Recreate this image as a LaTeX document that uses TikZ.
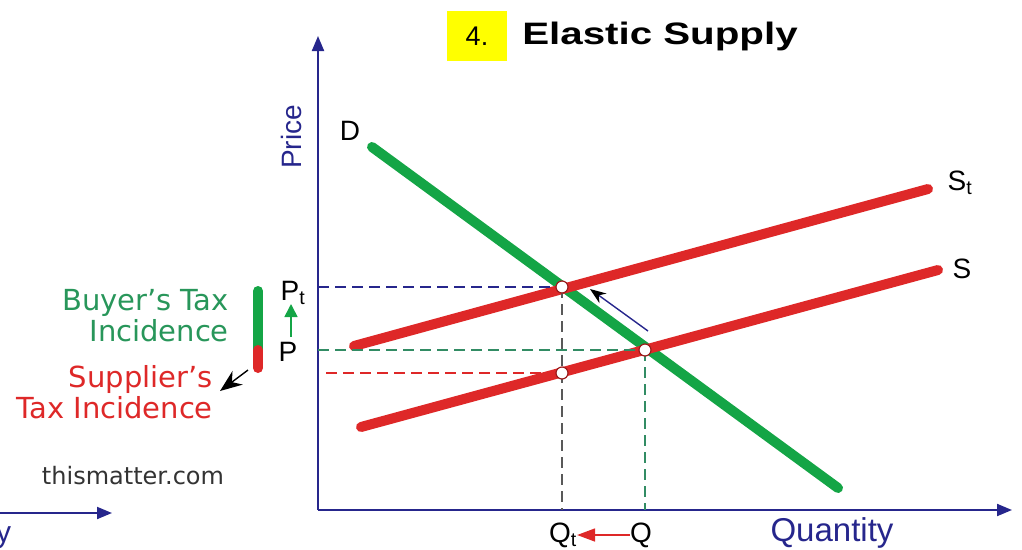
\documentclass[tikz,border=0pt]{standalone}
\usepackage{fontspec}
\setmainfont{Liberation Sans}
\newfontfamily\verdanalike{DejaVu Sans}
\usetikzlibrary{arrows.meta}
\begin{document}
\begin{tikzpicture}[x=1pt, y=-1pt,
    axis/.style={draw=colorAxis, line width=2pt, -{Triangle[length=15pt, width=12pt]}},
    curve/.style={line width=10pt, line cap=round},
    guide/.style={line width=2pt, dash pattern=on 11pt off 6pt},
    dot/.style={circle, draw=colorSupply!70!black, fill=white, line width=1.2pt, inner sep=0pt, minimum size=12pt},
    lbl/.style={font=\fontsize{28}{28}\selectfont, text=black, inner sep=0pt},
    side/.style={font=\verdanalike\fontsize{29}{31}\selectfont, align=right, inner sep=0pt, anchor=east}
    ]
    % Definizione colori
    \definecolor{colorAxis}{RGB}{38, 38, 140}
    \definecolor{colorDemand}{RGB}{20, 165, 70}
    \definecolor{colorSupply}{RGB}{222, 40, 40}
    \definecolor{colorBuyer}{RGB}{40, 150, 90}
    \definecolor{colorGuide}{RGB}{50, 140, 100}
    \definecolor{colorTitle}{RGB}{255, 255, 0}

    \useasboundingbox (0,0) rectangle (1022,549);

    % Titolo
    \node[fill=colorTitle, minimum width=60pt, minimum height=50pt, font=\fontsize{27}{27}\selectfont] (numero) at (477,36) {4.};
    \node[font=\bfseries\fontsize{31}{31}\selectfont, xscale=1.3, anchor=west, inner sep=0pt] (titolo) at (522,36) {Elastic Supply};

    % Assi
    \coordinate (origine) at (318,510);
    \coordinate (cimaY) at (318,36);
    \coordinate (fineX) at (1012,510);
    \draw[axis] (origine) -- (cimaY);
    \draw[axis] (origine) -- (fineX);
    \node[rotate=90, font=\fontsize{28}{28}\selectfont, text=colorAxis, inner sep=0pt] (prezzo) at (291,137) {Price};
    \node[font=\fontsize{33}{33}\selectfont, text=colorAxis, inner sep=0pt] (quantita) at (832,533) {Quantity};

    % Asse del pannello precedente
    \coordinate (vecchioX) at (0,513);
    \coordinate (vecchioFine) at (112,513);
    \draw[axis] (vecchioX) -- (vecchioFine);
    \node[font=\fontsize{30}{30}\selectfont, text=colorAxis, inner sep=0pt, anchor=north west] (vecchiaY) at (-4,526) {y};

    % Curve
    \coordinate (d1) at (372,147);
    \coordinate (d2) at (838,488);
    \coordinate (st1) at (354,346);
    \coordinate (st2) at (928,189);
    \coordinate (s1) at (361,427);
    \coordinate (s2) at (938,270);
    \draw[curve, colorDemand] (d1) -- (d2);
    \draw[curve, colorSupply] (st1) -- (st2);
    \draw[curve, colorSupply] (s1) -- (s2);
    \node[lbl] (labelD) at (350,131) {D};
    \node[lbl] (labelSt) at (960,183) {S\textsubscript{t}};
    \node[lbl] (labelS) at (962,269) {S};

    % Punti di equilibrio
    \coordinate (eqT) at (562,287);
    \coordinate (eq) at (645,350);
    \coordinate (eqS) at (562,373);
    \coordinate (asseT) at (562,510);
    \coordinate (asseQ) at (645,510);

    % Linee tratteggiate
    \draw[guide, colorAxis] (318,287) -- (eqT);
    \draw[guide, colorGuide] (318,350) -- (eq);
    \draw[guide, colorSupply] (326,373) -- (eqS);
    \draw[guide, black!65] (eqT) -- (asseT);
    \draw[guide, colorGuide] (eq) -- (asseQ);

    \node[dot] (puntoT) at (eqT) {};
    \node[dot] (punto) at (eq) {};
    \node[dot] (puntoS) at (eqS) {};

    % Spostamento dell'equilibrio
    \coordinate (frecciaDa) at (648,331);
    \coordinate (frecciaA) at (590,289);
    \draw[line width=1.4pt, colorAxis, -{Stealth[length=16pt, width=12pt, black]}] (frecciaDa) -- (frecciaA);

    % Prezzi
    \node[lbl] (labelPt) at (293,293) {P\textsubscript{t}};
    \node[lbl] (labelP) at (288,352) {P};
    \draw[line width=1.6pt, colorDemand, -{Triangle[length=13pt, width=13pt]}] (291,337) -- (291,304);

    % Barra dell'incidenza
    \draw[line width=10pt, colorDemand, line cap=round] (258,291) -- (258,350);
    \draw[line width=10pt, colorSupply, line cap=round] (258,368) -- (258,350);
    \draw[line width=10pt, colorSupply] (258,350) -- (258,360);

    \node[side, text=colorBuyer] (compratore) at (229,316) {Buyer’s Tax\\Incidence};
    \node[side, text=colorSupply] (fornitore) at (213,392) {Supplier’s\\Tax Incidence};
    \draw[line width=1.4pt, black, -{Stealth[length=22pt, width=17pt]}] (248,370) -- (220,391);

    % Quantita
    \node[lbl] (labelQt) at (563,535) {Q\textsubscript{t}};
    \node[lbl] (labelQ) at (641,535) {Q};
    \draw[line width=1.6pt, colorSupply, -{Triangle[length=18pt, width=13pt]}] (labelQ.west) -- (labelQt.east);

    \node[font=\verdanalike\fontsize{24}{24}\selectfont, text=black!80, inner sep=0pt] (sito) at (133,476) {thismatter.com};
\end{tikzpicture}
\end{document}
